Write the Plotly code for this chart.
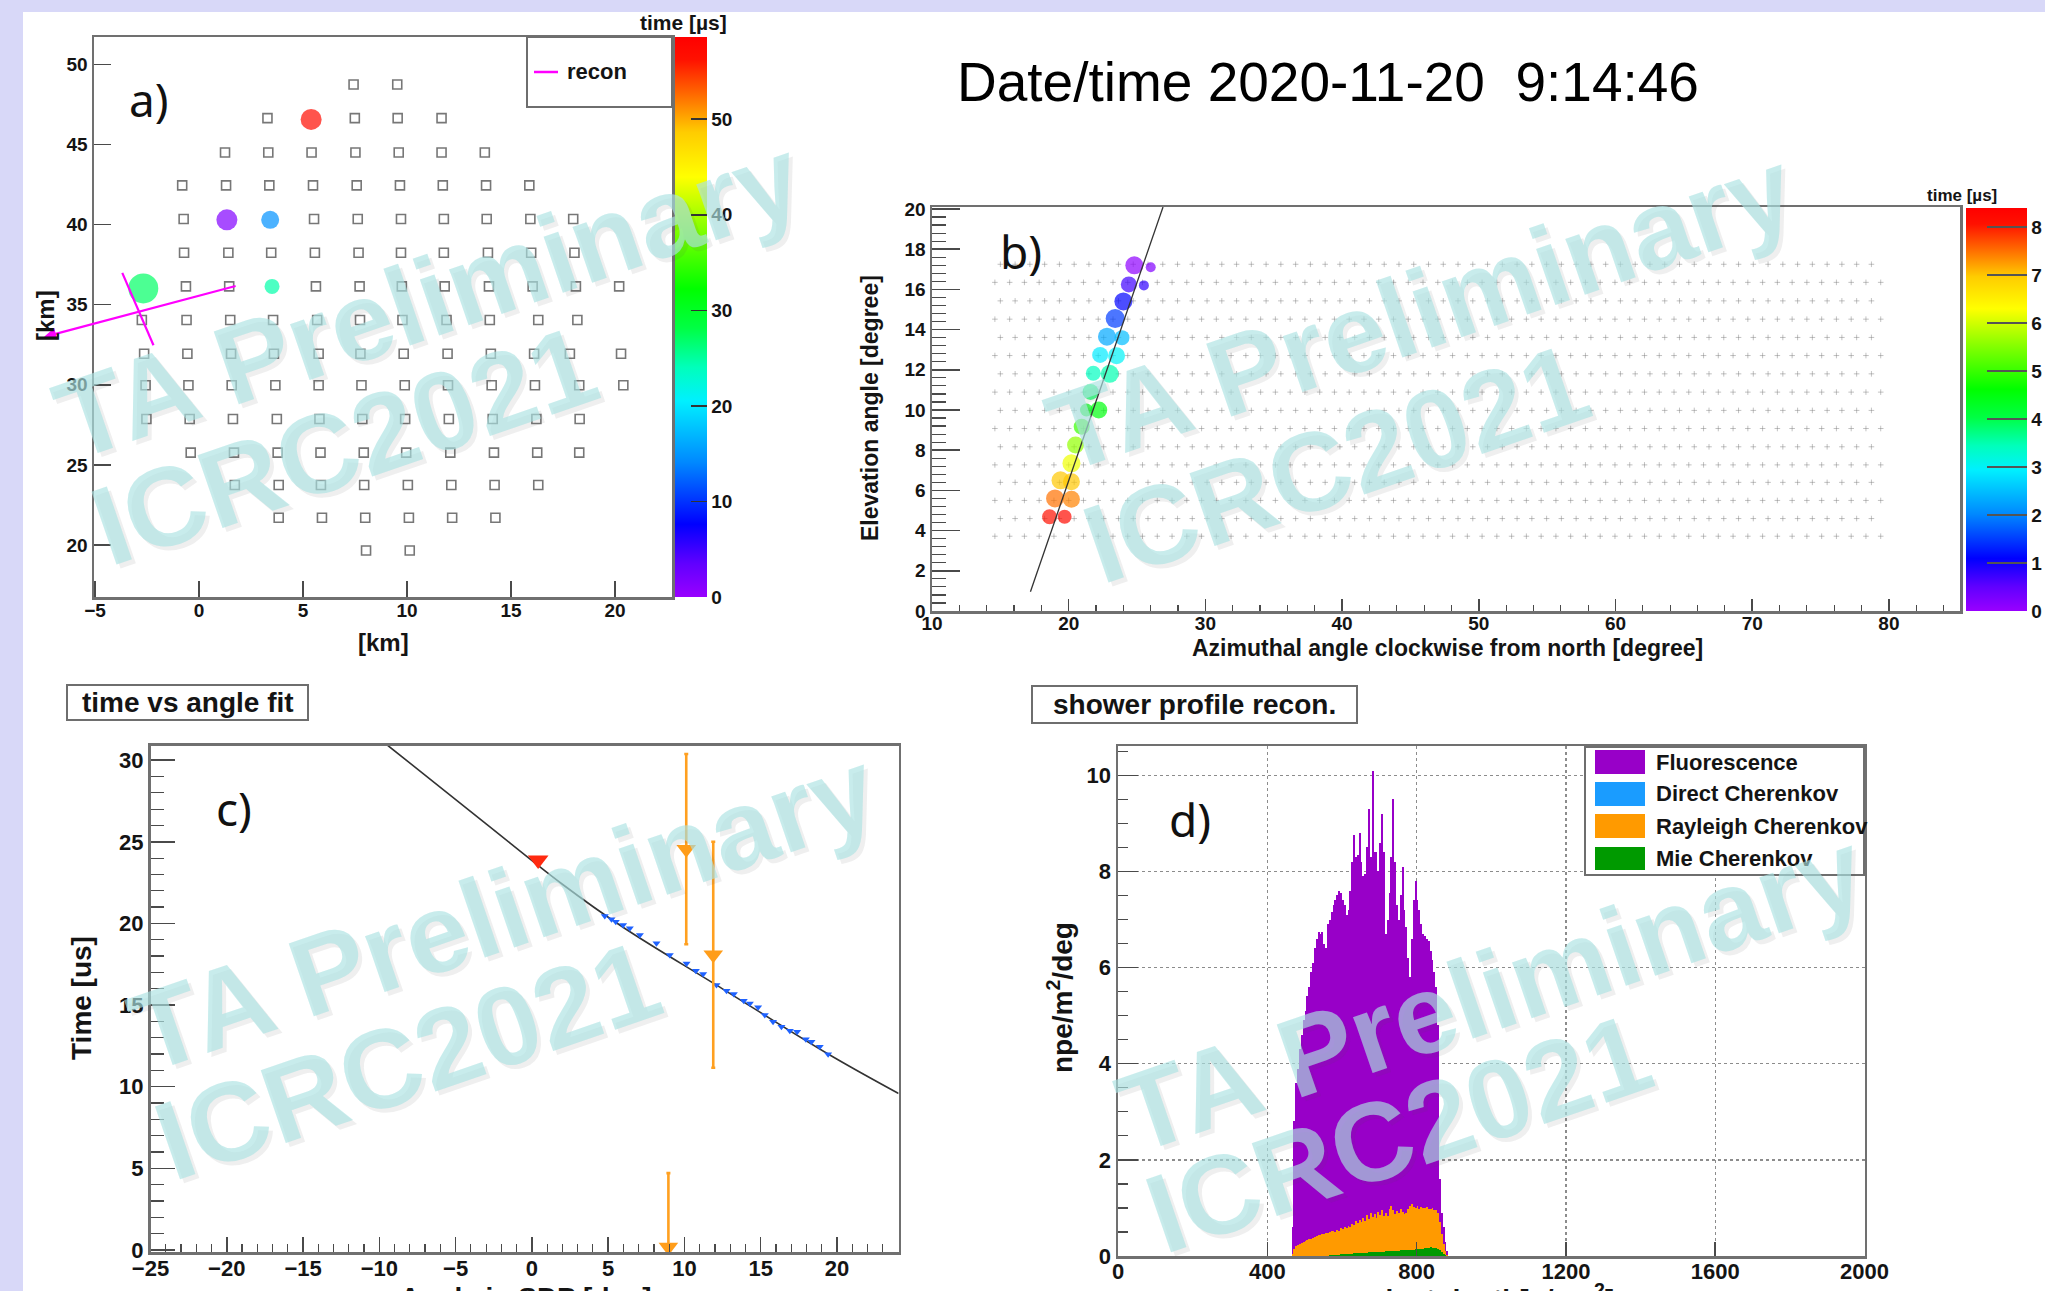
import numpy as np
import plotly.graph_objects as go

FW, FH = 2045, 1291
def px(v): return v / FW
def py(v): return 1 - v / FH

FONT = "Liberation Sans, Arial, Helvetica, sans-serif"
TXT = "#141414"

# ---------------- panel a : SD array footprint ----------------
sd_row_y = [48.74, 46.64, 44.49, 42.44, 40.34, 38.24, 36.14, 34.04, 31.94, 29.97, 27.87, 25.77, 23.75, 21.70, 19.66]
sd_row_x = [
    [7.43, 9.53],
    [3.29, 7.49, 9.55, 11.66],
    [1.25, 3.33, 5.41, 7.52, 9.60, 11.66, 13.74],
    [-0.81, 1.30, 3.38, 5.48, 7.58, 9.66, 11.72, 13.80, 15.88],
    [-0.74, 5.53, 7.63, 9.71, 11.77, 13.83, 15.93, 17.99],
    [-0.72, 1.41, 3.47, 5.57, 7.67, 9.71, 11.77, 13.89, 15.97, 18.05],
    [-0.63, 1.45, 5.62, 7.72, 9.75, 11.81, 13.94, 16.04, 18.12, 20.20],
    [-2.75, -0.60, 1.50, 3.56, 5.68, 7.74, 9.78, 11.90, 13.98, 16.31, 18.19],
    [-2.64, -0.56, 1.54, 3.60, 5.75, 7.76, 9.84, 11.95, 14.03, 16.11, 17.83, 20.29],
    [-2.57, -0.51, 1.57, 3.67, 5.75, 7.81, 9.89, 11.97, 14.07, 16.15, 18.28, 20.40],
    [-2.53, -0.45, 1.63, 3.74, 5.79, 7.85, 9.91, 12.01, 14.12, 16.22, 18.30],
    [-0.40, 1.68, 3.78, 5.84, 7.92, 9.96, 12.08, 14.18, 16.26, 18.28],
    [1.72, 3.83, 5.86, 7.94, 10.04, 12.13, 14.21, 16.31],
    [3.83, 5.91, 7.99, 10.09, 12.17, 14.25],
    [8.03, 10.13],
]
hit_sd_x = [5.39, 1.34, 3.42, -2.68, 3.51]
hit_sd_y = [46.56, 40.29, 40.29, 36.01, 36.14]
hit_sd_time = [57.0, 1.5, 14.6, 27.0, 24.6]
hit_sd_size = [21, 21, 18, 30, 15]
recon_axis_x = [1.83, -7.45]      # tail, head
recon_axis_y = [36.19, 32.99]
recon_perp_x = [-3.69, -2.19]
recon_perp_y = [36.98, 32.47]
time_a_max = 58.6

# ---------------- panel b : FD camera view ----------------
pmt_row_el = [17.25, 16.35, 15.43, 14.52, 13.61, 12.71, 11.80, 10.89, 9.98, 9.08, 8.17, 7.27, 6.40, 5.50, 4.60, 3.72]
pmt_row_first_az = [15.0, 14.6, 15.0, 14.6, 15.0, 14.6, 15.0, 14.6, 15.0, 14.6, 15.0, 14.6, 15.0, 14.6, 15.0, 14.6]
pmt_last_az = 79.4
pmt_az_step = 1.08

fd_hit_az = [24.8, 26.0, 24.4, 25.5, 24.0, 23.4, 22.8, 23.9, 22.3, 23.5, 21.8, 23.0,
             21.6, 22.2, 21.3, 20.95, 20.5, 20.2, 19.4, 20.2, 19.0, 20.2, 18.6, 19.7]
fd_hit_el = [17.2, 17.1, 16.25, 16.2, 15.4, 14.55, 13.65, 13.6, 12.74, 12.7, 11.83, 11.8,
             10.9, 10.0, 10.0, 9.17, 8.26, 7.35, 6.5, 6.43, 5.6, 5.56, 4.69, 4.69]
fd_hit_time = [0.1, 0.2, 0.7, 0.8, 1.1, 1.5, 2.3, 2.5, 2.9, 3.0, 3.4, 3.5,
               3.9, 4.5, 4.4, 5.0, 5.6, 6.2, 7.0, 7.0, 7.5, 7.4, 8.1, 8.2]
fd_hit_size = [18, 10, 16, 10, 18, 19, 18, 15, 16, 17, 15, 18,
               16, 17, 13, 16, 17, 18, 18, 17, 18, 17, 15, 14]
sdp_line_az = [17.2, 26.9]
sdp_line_el = [0.96, 20.1]
time_b_max = 8.4

# ---------------- panel c : time vs angle fit ----------------
fit_angle = [-9.44, -3.0, 2.0, 6.0, 12.1, 19.42, 24.04]
fit_time = [30.9, 26.1, 22.4, 19.75, 16.22, 12.0, 9.58]
tube_angle = [4.78, 5.22, 5.5, 5.98, 6.42, 7.08, 8.17, 9.04, 10.14, 10.75, 11.23, 12.1, 12.76,
              13.24, 13.89, 14.29, 14.83, 15.27, 15.81, 16.36, 16.91, 17.39, 17.96, 18.33, 18.87, 19.42]
tube_time = [20.45, 20.25, 20.1, 19.9, 19.7, 19.29, 18.78, 18.06, 17.55, 17.1, 16.9, 16.22, 15.88,
             15.67, 15.26, 15.1, 14.86, 14.39, 13.98, 13.67, 13.43, 13.36, 12.9, 12.75, 12.44, 11.99]
sd_pt_angle = [0.41]
sd_pt_time = [23.88]
other_angle = [10.12, 11.89, 8.95]
other_time = [24.55, 18.08, 0.17]
other_err = [5.83, 6.92, 4.53]

# ---------------- panel d : shower profile ----------------
depth_lo = list(range(465, 885, 5))
bin_w = 5
fluor = [0.6, 2.8, 3.6, 3.9, 4.3, 4.6, 4.9, 5.1, 5.4, 5.6, 5.9, 6.1,
         6.4, 6.6, 6.75, 6.7, 6.75, 6.5, 6.4, 6.9, 7.0, 7.15, 7.3, 7.4,
         7.5, 7.6, 7.55, 7.4, 7.3, 7.1, 7.2, 7.6, 8.2, 8.75, 8.3, 8.35,
         8.8, 8.2, 7.9, 7.95, 8.5, 9.3, 8.3, 10.1, 8.4, 8.4, 8.0, 8.6,
         9.2, 8.4, 6.7, 7.0, 7.55, 8.3, 9.5, 8.2, 7.3, 7.0, 7.5, 8.1,
         7.2, 6.85, 6.2, 5.8, 6.6, 7.4, 7.8, 7.4, 7.2, 6.9, 6.7, 6.65,
         6.6, 6.55, 6.35, 6.15, 5.9, 5.6, 4.8, 1.6, 0.9, 0.6, 0.3, 0.1]
rayleigh = [0.05, 0.15, 0.2, 0.23, 0.25, 0.27, 0.29, 0.31, 0.33, 0.35, 0.36, 0.38,
            0.4, 0.41, 0.43, 0.44, 0.45, 0.46, 0.47, 0.48, 0.5, 0.51, 0.52, 0.5,
            0.55, 0.53, 0.58, 0.56, 0.6, 0.58, 0.63, 0.6, 0.66, 0.64, 0.72, 0.68,
            0.75, 0.7, 0.8, 0.72, 0.85, 0.78, 0.9, 0.82, 0.88, 0.8, 0.92, 0.85,
            0.95, 0.83, 0.9, 0.84, 0.98, 1.05, 0.95, 0.88, 0.93, 0.9, 0.97, 0.92,
            0.88, 0.9, 0.98, 1.05, 1.08, 1.02, 1.0, 1.03, 0.98, 1.02, 1.0, 0.99,
            1.01, 0.98, 0.97, 0.99, 0.96, 0.95, 0.9, 0.7, 0.45, 0.25, 0.1, 0.03]
direct = [0.0] * 24 + [0.01, 0.01, 0.01, 0.01, 0.01, 0.01, 0.02, 0.02, 0.02, 0.02, 0.02, 0.02,
                       0.02, 0.02, 0.03, 0.03, 0.03, 0.03, 0.03, 0.03, 0.03, 0.03, 0.03, 0.03,
                       0.04, 0.04, 0.04, 0.04, 0.04, 0.04, 0.04, 0.04, 0.04, 0.04, 0.04, 0.04,
                       0.04, 0.04, 0.04, 0.04, 0.04, 0.04, 0.04, 0.04, 0.04, 0.04, 0.04, 0.04,
                       0.04, 0.04, 0.04, 0.04, 0.04, 0.04, 0.03, 0.02, 0.01, 0.01, 0.0, 0.0]
mie = [0, 0, 0, 0, 0, 0, 0, 0, 0, 0, 0, 0,
       0, 0, 0, 0, 0, 0, 0.01, 0.01, 0.02, 0.02, 0.02, 0.03,
       0.03, 0.03, 0.04, 0.04, 0.04, 0.05, 0.05, 0.05, 0.05, 0.06, 0.06, 0.06,
       0.06, 0.07, 0.07, 0.07, 0.07, 0.08, 0.08, 0.08, 0.08, 0.09, 0.09, 0.09,
       0.09, 0.09, 0.1, 0.1, 0.1, 0.1, 0.11, 0.11, 0.11, 0.11, 0.12, 0.12,
       0.12, 0.12, 0.13, 0.13, 0.13, 0.13, 0.14, 0.14, 0.14, 0.15, 0.15, 0.16,
       0.16, 0.17, 0.18, 0.17, 0.16, 0.16, 0.15, 0.12, 0.08, 0.05, 0.02, 0.0]
legend_d_names = ["Fluorescence", "Direct Cherenkov", "Rayleigh Cherenkov", "Mie Cherenkov"]
legend_d_colors = ["#9800c8", "#1a9cff", "#ff9a00", "#009a00"]

ROOT_PAL = [[0.0, '#9900ff'], [0.06, '#6000ff'], [0.13, '#0000ff'], [0.24, '#0088ff'],
            [0.35, '#00f0ff'], [0.41, '#00ffbb'], [0.48, '#00ff44'], [0.55, '#00ff00'],
            [0.66, '#88ff00'], [0.75, '#ffff00'], [0.83, '#ffcc00'], [0.9, '#ff6600'],
            [0.96, '#ff1100'], [1.0, '#ff0000']]

fig = go.Figure()

# ---- a
sx, sy = [], []
for yy, row in zip(sd_row_y, sd_row_x):
    for xx in row:
        sx.append(xx); sy.append(yy)
fig.add_trace(go.Scatter(x=sx, y=sy, mode='markers', xaxis='x', yaxis='y',
                         marker=dict(symbol='square-open', size=9, color='#777777', line=dict(width=1.6)),
                         hoverinfo='skip'))
fig.add_trace(go.Scatter(x=hit_sd_x, y=hit_sd_y, mode='markers', xaxis='x', yaxis='y',
                         marker=dict(symbol='circle', size=hit_sd_size, color=hit_sd_time,
                                     colorscale=ROOT_PAL, cmin=0, cmax=time_a_max, line=dict(width=0),
                                     showscale=True,
                                     colorbar=dict(x=px(675), xanchor='left', xpad=0, y=py(37), yanchor='top',
                                                   ypad=0, len=560 / FH, lenmode='fraction', thickness=32,
                                                   thicknessmode='pixels', outlinewidth=0, tickmode='linear',
                                                   tick0=0, dtick=10, ticks='inside', ticklen=16,
                                                   tickcolor='#333', tickwidth=1.5,
                                                   tickfont=dict(family=FONT, size=19, color=TXT, weight='bold'))),
                         hoverinfo='skip'))
fig.add_trace(go.Scatter(x=recon_perp_x, y=recon_perp_y, mode='lines', xaxis='x', yaxis='y',
                         line=dict(color='#ff00ff', width=2.2), hoverinfo='skip'))

# ---- b
pa, pe = [], []
for el, a0 in zip(pmt_row_el, pmt_row_first_az):
    for az in np.arange(a0, pmt_last_az, pmt_az_step):
        pa.append(az); pe.append(el)
fig.add_trace(go.Scatter(x=pa, y=pe, mode='markers', xaxis='x2', yaxis='y2',
                         marker=dict(symbol='cross-thin', size=4, color='rgba(120,120,120,0.45)',
                                     line=dict(width=1.0, color='rgba(120,120,120,0.45)')),
                         hoverinfo='skip'))
fig.add_trace(go.Scatter(x=fd_hit_az, y=fd_hit_el, mode='markers', xaxis='x2', yaxis='y2',
                         marker=dict(symbol='circle', size=fd_hit_size, color=fd_hit_time,
                                     colorscale=ROOT_PAL, cmin=0, cmax=time_b_max, line=dict(width=0),
                                     showscale=True,
                                     colorbar=dict(x=px(1966), xanchor='left', xpad=0, y=py(208), yanchor='top',
                                                   ypad=0, len=403 / FH, lenmode='fraction', thickness=61,
                                                   thicknessmode='pixels', outlinewidth=0, tickmode='linear',
                                                   tick0=0, dtick=1, ticks='inside', ticklen=40,
                                                   tickcolor='#555', tickwidth=1.5,
                                                   tickfont=dict(family=FONT, size=19, color=TXT, weight='bold'))),
                         hoverinfo='skip'))
fig.add_trace(go.Scatter(x=sdp_line_az, y=sdp_line_el, mode='lines', xaxis='x2', yaxis='y2',
                         line=dict(color='#333', width=1.3), hoverinfo='skip'))

# ---- c
fig.add_trace(go.Scatter(x=fit_angle, y=fit_time, mode='lines', xaxis='x3', yaxis='y3',
                         line=dict(color='#333', width=1.6, shape='spline', smoothing=1.0), hoverinfo='skip'))
fig.add_trace(go.Scatter(x=tube_angle, y=tube_time, mode='markers', xaxis='x3', yaxis='y3',
                         marker=dict(symbol='triangle-down', size=7, color='#1f62ff'), hoverinfo='skip'))
fig.add_trace(go.Scatter(x=other_angle, y=other_time, mode='markers', xaxis='x3', yaxis='y3',
                         error_y=dict(type='data', array=other_err, color='#ffa020', thickness=2.6, width=2),
                         marker=dict(symbol='triangle-down', size=17, color='#ff9d1a'), hoverinfo='skip'))
fig.add_trace(go.Scatter(x=sd_pt_angle, y=sd_pt_time, mode='markers', xaxis='x3', yaxis='y3',
                         marker=dict(symbol='triangle-down', size=18, color='#ff2a10'), hoverinfo='skip'))

# ---- d
centers = [d + bin_w / 2 for d in depth_lo]
for vals, col in [(fluor, legend_d_colors[0]), (rayleigh, legend_d_colors[2]),
                  (direct, legend_d_colors[1]), (mie, legend_d_colors[3])]:
    fig.add_trace(go.Bar(x=centers, y=vals, width=bin_w, xaxis='x4', yaxis='y4',
                         marker=dict(color=col, line=dict(width=0)), hoverinfo='skip'))


def axis(domain, rng, dtick, tick0, ticklen, anchor, minor=None, fsize=19, grid=False, standoff=0):
    d = dict(domain=domain, range=rng, tickmode='linear', dtick=dtick, tick0=tick0, ticks='inside',
             ticklen=ticklen, tickwidth=1.5, tickcolor='#4a4a4a', showline=True, linecolor='#707070',
             linewidth=2.5, mirror=True, showgrid=grid, zeroline=False, anchor=anchor, fixedrange=True,
             automargin=False, ticklabelstandoff=standoff,
             tickfont=dict(family=FONT, size=fsize, color=TXT, weight='bold'))
    if grid:
        d.update(gridcolor='#8c8c8c', griddash='dot', gridwidth=1.3)
    if minor:
        d['minor'] = dict(dtick=minor[0], ticklen=minor[1], ticks='inside', tickwidth=1.2,
                          tickcolor='#4a4a4a', showgrid=False)
    return d

ax_dom = [px(94), px(672)]; ay_dom = [py(597), py(37)]
bx_dom = [px(932), px(1960)]; by_dom = [py(611), py(207)]
cx_dom = [px(150.5), px(898.6)]; cy_dom = [py(1252), py(745.5)]
dx_dom = [px(1118), px(1864.5)]; dy_dom = [py(1256), py(746)]

layout = dict(
    xaxis=axis(ax_dom, [-5.05, 22.74], 5, 0, 16, 'y', standoff=-5),
    yaxis=axis(ay_dom, [16.76, 51.7], 5, 0, 17, 'x'),
    xaxis2=axis(bx_dom, [10, 85.2], 10, 10, 12, 'y2', minor=(2, 6), standoff=-6),
    yaxis2=axis(by_dom, [0, 20.1], 2, 0, 28, 'x2', minor=(0.4, 14)),
    xaxis3=axis(cx_dom, [-25, 24.04], 5, 0, 15, 'y3', minor=(1, 8), fsize=22, standoff=-5),
    yaxis3=axis(cy_dom, [-0.13, 30.9], 5, 0, 24, 'x3', minor=(1, 13), fsize=22),
    xaxis4=axis(dx_dom, [0, 2000], 400, 0, 14, 'y4', fsize=22, grid=True, standoff=-6),
    yaxis4=axis(dy_dom, [0, 10.61], 2, 0, 20, 'x4', minor=(0.5, 10), fsize=22, grid=True),
)

shapes = []
ann = []
# white page area on lavender border
shapes.append(dict(type='rect', xref='paper', yref='paper', x0=px(23), x1=1.0, y0=0.0, y1=py(12),
                   fillcolor='white', line=dict(width=0), layer='below'))

def box(x0, y0, x1, y1, fill='white'):
    shapes.append(dict(type='rect', xref='paper', yref='paper', x0=px(x0), x1=px(x1), y0=py(y1), y1=py(y0),
                       fillcolor=fill, line=dict(color='#6e6e6e', width=2), layer='above'))

def text(t, x, y, size, xanchor='center', angle=0, family=FONT, weight='bold', color=TXT):
    ann.append(dict(text=t, x=px(x), y=py(y), xref='paper', yref='paper', showarrow=False,
                    xanchor=xanchor, yanchor='middle', textangle=angle,
                    font=dict(family=family, size=size, color=color, weight=weight)))

# legend a
box(527, 37, 672, 107)
shapes.append(dict(type='line', xref='paper', yref='paper', x0=px(534), x1=px(558), y0=py(72), y1=py(72),
                   line=dict(color='#ff00ff', width=2.5), layer='above'))
text('recon', 565, 72, 22, xanchor='left')
# recon axis arrow (extends past frame like original)
ann.append(dict(x=recon_axis_x[1], y=recon_axis_y[1], ax=recon_axis_x[0], ay=recon_axis_y[0],
                xref='x', yref='y', axref='x', ayref='y', text='', showarrow=True,
                arrowhead=2, arrowsize=1.1, arrowwidth=2.2, arrowcolor='#ff00ff'))

# legend d
box(1585, 747, 1864, 875)
rows = [(750, 774), (782, 806), (814, 838), (847, 870)]
for (y0, y1), name, col in zip(rows, legend_d_names, legend_d_colors):
    shapes.append(dict(type='rect', xref='paper', yref='paper', x0=px(1595), x1=px(1645), y0=py(y1), y1=py(y0),
                       fillcolor=col, line=dict(width=0), layer='above'))
    text(name, 1654, (y0 + y1) / 2, 22, xanchor='left')

# title boxes
box(67, 685, 308, 720)
text('time vs angle fit', 187.5, 702, 28)
box(1032, 686, 1357, 723)
text('shower profile recon.', 1194, 704.5, 28)

# big date title
text('Date/time 2020-11-20\u00a0\u00a09:14:46', 1328, 82, 55, weight='normal', color='#000')

# panel labels
for lab, x, y in [('a)', 149, 99), ('b)', 1021, 251), ('c)', 234, 808), ('d)', 1190, 819)]:
    text(lab, x, y, 46, family='Noto Sans, Open Sans, sans-serif', weight='normal', color='#111')

# axis titles
text('[km]', 383, 642, 24)
text('[km]', 46, 316, 24, angle=-90)
text('time [\u00b5s]', 683, 22, 21)
text('time [\u00b5s]', 1962, 195, 17)
text('Elevation angle [degree]', 870, 408, 23, angle=-90)
text('Azimuthal angle clockwise from north [degree]', 1447, 648, 23)
text('Time [us]', 81, 998, 28, angle=-90)
text('Angle in SDP [deg]', 526, 1297, 28)
text('npe/m<sup>2</sup>/deg', 1060, 998, 28, angle=-90)
text('slant depth[g/cm<sup>2</sup>]', 1492, 1297, 28)

# watermarks
wm = [("TA Preliminary", 428, 298), ("ICRC2021", 344, 446),
      ("TA Preliminary", 1421, 311), ("ICRC2021", 1336, 464),
      ("TA Preliminary", 503, 910), ("ICRC2021", 407, 1060),
      ("TA Preliminary", 1491, 991), ("ICRC2021", 1398, 1133)]
for t, x, y in wm:
    ann.append(dict(text=t, x=px(x), y=py(y), xref='paper', yref='paper', showarrow=False,
                    xanchor='center', yanchor='middle', textangle=-19, xshift=4, yshift=-4,
                    font=dict(family=FONT, size=112, color='rgba(80,80,80,0.09)', weight='bold')))
    ann.append(dict(text=t, x=px(x), y=py(y), xref='paper', yref='paper', showarrow=False,
                    xanchor='center', yanchor='middle', textangle=-19,
                    font=dict(family=FONT, size=112, color='rgba(172,226,226,0.66)', weight='bold')))

fig.update_layout(**layout)
fig.update_layout(width=FW, height=FH, margin=dict(l=0, r=0, t=0, b=0, pad=0, autoexpand=False),
                  paper_bgcolor='#d8d8f8', plot_bgcolor='white', showlegend=False,
                  barmode='overlay', bargap=0, font=dict(family=FONT, color=TXT),
                  shapes=shapes, annotations=ann)

fig.write_html("out.html", config={'displayModeBar': False, 'staticPlot': True},
               post_script="document.body.style.margin='0';document.body.style.overflow='hidden';")
